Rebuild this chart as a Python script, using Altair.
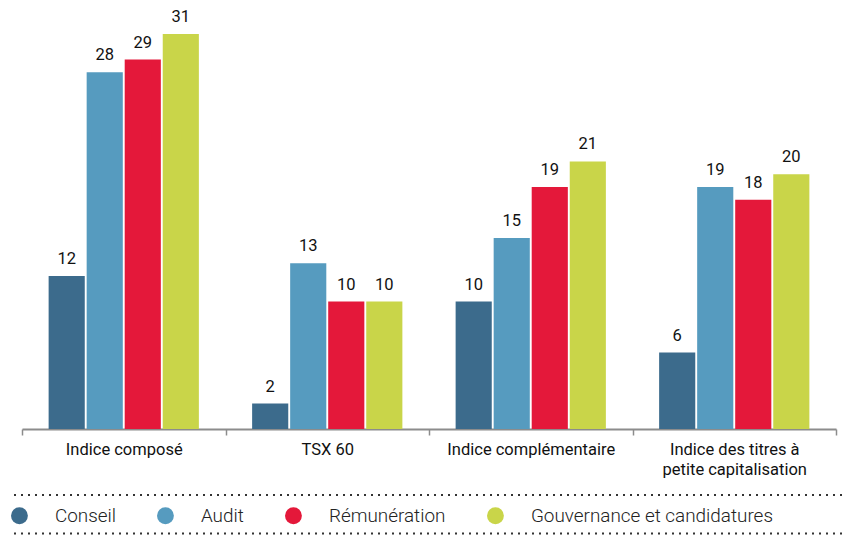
import altair as alt
import pandas as pd

categories = ["Indice composé", "TSX 60", "Indice complémentaire", "Indice des titres à petite capitalisation"]
series = ["Conseil", "Audit", "Rémunération", "Gouvernance et candidatures"]
values = {
    "Conseil": [12, 2, 10, 6],
    "Audit": [28, 13, 15, 19],
    "Rémunération": [29, 10, 19, 18],
    "Gouvernance et candidatures": [31, 10, 21, 20],
}
colors = ["#3c6b8c", "#569bbf", "#e4183a", "#c9d549"]

rows = []
for s in series:
    for c, v in zip(categories, values[s]):
        rows.append({"cat": c, "series": s, "value": v})
df = pd.DataFrame(rows)

FONT = "Roboto"

xenc = alt.X("cat:N", sort=categories, title=None,
             scale=alt.Scale(paddingInner=0, paddingOuter=0),
             axis=alt.Axis(tickBand="extent", domainColor="#8c8c8c", domainWidth=2,
                           tickColor="#8c8c8c", tickWidth=1.5, tickSize=6,
                           labelAngle=0, labelFont=FONT, labelFontSize=16.5, labelColor="#111",
                           labelFontWeight=400,
                           labelPadding=6, labelLimit=300, labelLineHeight=20,
                           labelExpr="datum.value == 'Indice des titres à petite capitalisation' ? ['Indice des titres à', 'petite capitalisation'] : datum.value"))
xoff = alt.XOffset("series:N", sort=series, scale=alt.Scale(paddingInner=0.05, paddingOuter=0.70))
yenc = alt.Y("value:Q", title=None, scale=alt.Scale(domain=[0, 33.67], nice=False), axis=None)

base = alt.Chart(df)

bars = base.mark_bar().encode(
    x=xenc, xOffset=xoff, y=yenc,
    color=alt.Color("series:N", sort=series, scale=alt.Scale(domain=series, range=colors),
                    legend=alt.Legend(title=None, orient="none", direction="horizontal",
                                      legendX=-12, legendY=506, symbolType="circle", symbolSize=285,
                                      symbolStrokeWidth=0, labelFont=FONT, labelFontSize=18.9,
                                      labelFontWeight=300, labelLimit=400,
                                      labelColor="#222", labelOffset=26, columnPadding=40,
                                      symbolOpacity=1)),
)

labels = base.mark_text(dy=-17, baseline="middle", font=FONT, fontSize=16.5, color="#111").encode(
    x=xenc, xOffset=xoff, y=yenc, text="value:Q"
)

rules_df = pd.DataFrame({"yy": [495, 533.5]})
rules = alt.Chart(rules_df).mark_rule(color="#333", strokeDash=[2, 5], strokeWidth=2).encode(
    y=alt.Y("yy:Q", scale=None), x=alt.value(-8), x2=alt.value(824)
)

chart = alt.layer(bars, labels, rules).properties(
    width=814, height=429,
    padding={"left": 22, "top": 0, "right": 10, "bottom": 106},
    autosize=alt.AutoSizeParams(type="none"),
).configure_view(stroke=None)

chart.save("out.html", embed_options={"renderer": "svg", "actions": False})
